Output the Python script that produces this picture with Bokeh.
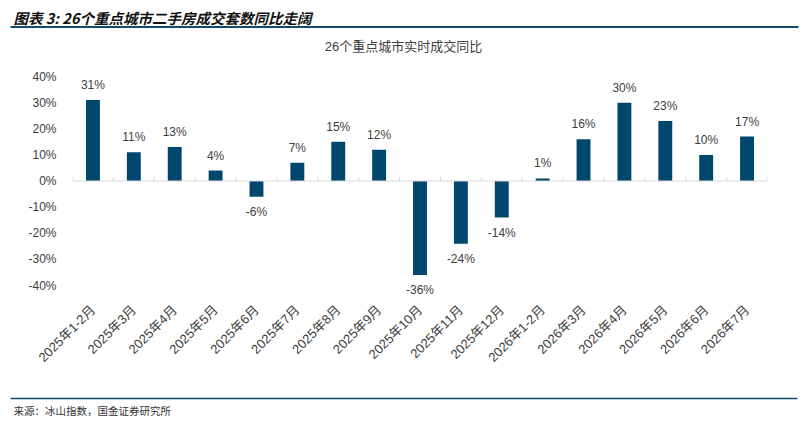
import numpy as np
from bokeh.plotting import figure
from bokeh.layouts import column
from bokeh.models import ColumnDataSource, FixedTicker, Range1d
from bokeh.core.properties import value
from bokeh.embed import file_html
from bokeh.resources import INLINE

# ---- data ----
categories = ["2025年1-2月", "2025年3月", "2025年4月", "2025年5月", "2025年6月",
              "2025年7月", "2025年8月", "2025年9月", "2025年10月", "2025年11月",
              "2025年12月", "2026年1-2月", "2026年3月", "2026年4月", "2026年5月",
              "2026年6月", "2026年7月"]
yoy = [31, 11, 13, 4, -6, 7, 15, 12, -36, -24, -14, 1, 16, 30, 23, 10, 17]
y_ticks = [-40, -30, -20, -10, 0, 10, 20, 30, 40]

header_text = "图表 3: 26个重点城市二手房成交套数同比走阔"
chart_title = "26个重点城市实时成交同比"
source_text = "来源：冰山指数，国金证券研究所"

FONT = "Liberation Sans, Noto Sans CJK SC"
CJK = "Noto Sans CJK SC"
BAR = "#00476E"
RULE = "#0E4D6B"
W = 804

# ---- header ----
HH = 62
hdr = figure(width=W, height=HH, x_range=Range1d(0, W), y_range=Range1d(HH, 0),
             toolbar_location=None, output_backend="svg",
             x_axis_location=None, y_axis_location=None, frame_align=False,
             min_border=0, outline_line_color=None)
hdr.grid.visible = False
hdr.text(x=[13], y=[17], text=[header_text], text_font=value(CJK),
         text_font_size="14.5px", text_font_style="bold italic",
         text_color="#111111", text_baseline="middle", text_align="left")
hdr.segment(x0=[10], y0=[26.5], x1=[798], y1=[26.5], line_color=RULE, line_width=2)
hdr.text(x=[403], y=[46], text=[chart_title], text_font=value(FONT),
         text_font_size="13px", text_color="#404040",
         text_baseline="middle", text_align="center")

# ---- main chart ----
n = len(categories)
x = np.arange(n)
src = ColumnDataSource(dict(x=x, top=yoy))
pos = ColumnDataSource(dict(x=[i for i, v in zip(x, yoy) if v >= 0],
                            y=[v for v in yoy if v >= 0],
                            lab=[f"{v}%" for v in yoy if v >= 0]))
neg = ColumnDataSource(dict(x=[i for i, v in zip(x, yoy) if v < 0],
                            y=[v for v in yoy if v < 0],
                            lab=[f"{v}%" for v in yoy if v < 0]))

px_per_unit = (285 - 76) / 80.0
y_top = 40 + (76 - 62) / px_per_unit
y_bot = -40 - (296 - 285) / px_per_unit

p = figure(width=W, height=330, x_range=Range1d(-0.5, n - 0.5),
           y_range=Range1d(y_bot, y_top), toolbar_location=None,
           output_backend="svg", min_border_left=72, min_border_right=W - 767,
           min_border_top=0, min_border_bottom=96, outline_line_color=None,
           frame_align=False)
p.grid.visible = False

p.vbar(x="x", top="top", bottom=0, width=0.34, source=src,
       fill_color=BAR, line_color=None)

# zero line and category-boundary ticks
p.segment(x0=[-0.5], y0=[0], x1=[n - 0.5], y1=[0], line_color="#D9D9D9", line_width=1)
bx = np.arange(n + 1) - 0.5
p.segment(x0=bx, y0=np.zeros(n + 1), x1=bx, y1=np.full(n + 1, 4 / px_per_unit),
          line_color="#D9D9D9", line_width=1)

p.text(x="x", y="y", text="lab", source=pos, text_font=value(FONT),
       text_font_size="12px", text_color="#404040", text_align="center",
       text_baseline="bottom", y_offset=-8)
p.text(x="x", y="y", text="lab", source=neg, text_font=value(FONT),
       text_font_size="12px", text_color="#404040", text_align="center",
       text_baseline="top", y_offset=8)

p.yaxis.ticker = FixedTicker(ticks=y_ticks)
p.yaxis.major_label_overrides = {t: f"{t}%" for t in y_ticks}
p.yaxis.axis_line_color = None
p.yaxis.major_tick_line_color = None
p.yaxis.minor_tick_line_color = None
p.yaxis.major_label_standoff = 10
p.yaxis.major_label_text_font = FONT
p.yaxis.major_label_text_font_size = "12px"
p.yaxis.major_label_text_color = "#404040"

p.xaxis.ticker = FixedTicker(ticks=list(range(n)))
p.xaxis.major_label_overrides = {i: c for i, c in enumerate(categories)}
p.xaxis.major_label_orientation = np.pi / 4
p.xaxis.axis_line_color = None
p.xaxis.major_tick_line_color = None
p.xaxis.minor_tick_line_color = None
p.xaxis.major_label_standoff = 5
p.xaxis.major_label_text_font = FONT
p.xaxis.major_label_text_font_size = "13px"
p.xaxis.major_label_text_color = "#404040"

# ---- footer ----
FH = 28
ftr = figure(width=W, height=FH, x_range=Range1d(0, W), y_range=Range1d(FH, 0),
             toolbar_location=None, output_backend="svg",
             x_axis_location=None, y_axis_location=None, frame_align=False,
             min_border=0, outline_line_color=None)
ftr.grid.visible = False
ftr.segment(x0=[10], y0=[6], x1=[797], y1=[6], line_color=RULE, line_width=1.5)
ftr.text(x=[13], y=[18], text=[source_text], text_font=value(CJK),
         text_font_size="10.5px", text_color="#333333",
         text_baseline="middle", text_align="left")

layout = column(hdr, p, ftr, spacing=0)
open("out.html", "w").write(file_html(layout, INLINE))
